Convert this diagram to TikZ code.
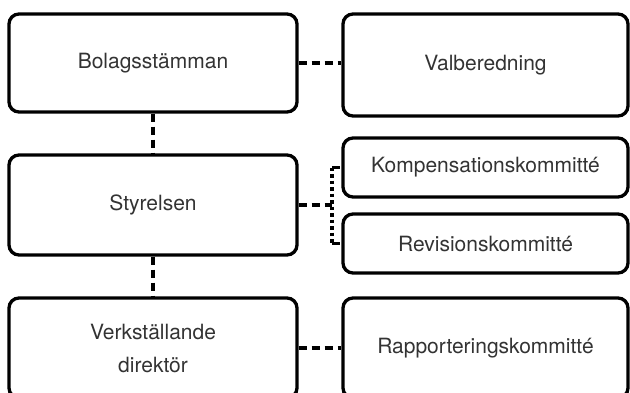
\documentclass[tikz,border=0pt]{standalone}
\usepackage{fontspec}
\setmainfont{TeX Gyre Heros}
\usetikzlibrary{scopes}
\begin{document}
\begin{tikzpicture}[x=1pt,y=-1pt,
    org/.style={draw=black,rounded corners=10pt,line width=3.3pt,inner sep=0pt,
        align=center,text=black!80,font=\fontsize{21}{33}\selectfont},
    wide/.style={org,minimum width=288pt},
    side/.style={org,minimum width=285pt},
    link/.style={line width=3.6pt,dash pattern=on 8pt off 5pt},
    dots/.style={line width=3.6pt,dash pattern=on 3.5pt off 3pt}
]
    \useasboundingbox (0,0) rectangle (630,392);
    \node[wide,minimum height=98pt] (bolag) at (153,63) {Bolagsstämman};
    \node[side,minimum height=102pt] (valb) at (485.5,65) {Valberedning};
    \node[wide,minimum height=100pt] (styr) at (153,205) {Styrelsen};
    \node[side,minimum height=59pt] (komp) at (485.5,167.5) {Kompensationskommitté};
    \node[side,minimum height=59pt] (rev) at (485.5,243.5) {Revisionskommitté};
    \node[wide,minimum height=100pt] (vd) at (153,348) {Verkställande\\direktör};
    \node[side,minimum height=100pt] (rapp) at (485.5,348) {Rapporteringskommitté};
    \coordinate (split) at (332,205);
    {[link]
        \draw (bolag.south) -- (styr.north);
        \draw (styr.south) -- (vd.north);
        \draw (bolag.east) -- (bolag.east -| valb.west);
        \draw (vd.east) -- (rapp.west);
        \draw (styr.east) -- (split);
        \draw (split |- komp.west) -- (komp.west);
        \draw (split |- rev.west) -- (rev.west);
    }
    \draw[dots] (split |- komp.west) -- (split |- rev.west);
\end{tikzpicture}
\end{document}
